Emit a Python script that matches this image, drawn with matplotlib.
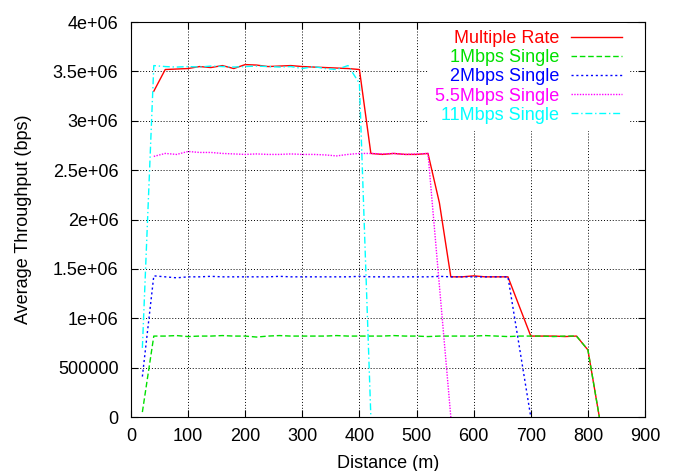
import matplotlib
matplotlib.use('Agg')
import matplotlib.pyplot as plt

plt.rcParams['font.family'] = ['Liberation Sans', 'DejaVu Sans']

# 数据
x_multi = [40, 60, 80, 100, 120, 140, 160, 180, 200, 220, 240, 260, 280, 300, 320, 340, 360, 380, 400,
           420, 440, 460, 480, 500, 520, 540, 560, 580, 600, 620, 640, 660, 680, 700, 720, 740, 760, 780, 800, 820]
y_multi = [3.30e6, 3.52e6, 3.525e6, 3.53e6, 3.55e6, 3.54e6, 3.56e6, 3.53e6, 3.57e6, 3.565e6, 3.55e6, 3.555e6,
           3.56e6, 3.55e6, 3.545e6, 3.54e6, 3.535e6, 3.53e6, 3.52e6,
           2.67e6, 2.66e6, 2.67e6, 2.66e6, 2.66e6, 2.67e6, 2.17e6, 1.42e6, 1.42e6, 1.43e6, 1.42e6, 1.42e6, 1.42e6,
           1.12e6, 0.82e6, 0.82e6, 0.82e6, 0.815e6, 0.82e6, 0.68e6, 0]

x_1m = list(range(20, 840, 20))
y_1m = [0.05e6, 0.82e6, 0.82e6, 0.825e6, 0.815e6, 0.82e6, 0.82e6, 0.825e6, 0.82e6, 0.82e6, 0.81e6, 0.82e6,
        0.825e6, 0.82e6, 0.82e6, 0.82e6, 0.82e6, 0.825e6, 0.82e6, 0.82e6, 0.82e6, 0.82e6, 0.825e6, 0.82e6,
        0.82e6, 0.815e6, 0.82e6, 0.82e6, 0.82e6, 0.82e6, 0.825e6, 0.82e6, 0.815e6, 0.82e6, 0.82e6, 0.82e6,
        0.815e6, 0.82e6, 0.82e6, 0.68e6, 0]

x_2m = list(range(20, 720, 20))
y_2m = [0.41e6, 1.43e6, 1.42e6, 1.41e6, 1.42e6, 1.42e6, 1.425e6, 1.42e6, 1.42e6, 1.42e6, 1.42e6, 1.42e6,
        1.425e6, 1.42e6, 1.42e6, 1.42e6, 1.42e6, 1.42e6, 1.42e6, 1.425e6, 1.42e6, 1.42e6, 1.42e6, 1.42e6,
        1.42e6, 1.42e6, 1.425e6, 1.42e6, 1.42e6, 1.42e6, 1.42e6, 1.42e6, 1.42e6, 0.71e6, 0]

x_55m = list(range(40, 580, 20))
y_55m = [2.64e6, 2.67e6, 2.66e6, 2.69e6, 2.68e6, 2.68e6, 2.67e6, 2.665e6, 2.66e6, 2.665e6, 2.66e6, 2.66e6,
         2.665e6, 2.66e6, 2.66e6, 2.655e6, 2.645e6, 2.66e6, 2.67e6, 2.67e6, 2.665e6, 2.67e6, 2.66e6, 2.665e6,
         2.67e6, 1.33e6, 0]

x_11m = list(range(20, 440, 20))
y_11m = [0.70e6, 3.56e6, 3.55e6, 3.545e6, 3.55e6, 3.545e6, 3.555e6, 3.55e6, 3.545e6, 3.55e6, 3.555e6, 3.55e6,
         3.545e6, 3.55e6, 3.53e6, 3.55e6, 3.53e6, 3.52e6, 3.56e6, 3.38e6, 0]

x_ticks = list(range(0, 1000, 100))
y_ticks = [0, 5e5, 1e6, 1.5e6, 2e6, 2.5e6, 3e6, 3.5e6, 4e6]
y_tick_labels = ['0', '500000', '1e+06', '1.5e+06', '2e+06', '2.5e+06', '3e+06', '3.5e+06', '4e+06']

fig = plt.figure(figsize=(6.75, 4.71), dpi=100)
ax = fig.add_axes([0.194, 0.1146, 0.7616, 0.8384])

ax.plot(x_multi, y_multi, color='#ff0000', lw=1.0, ls='-', label='Multiple Rate')
ax.plot(x_1m, y_1m, color='#00e000', lw=1.0, ls=(0, (4, 2)), label='1Mbps Single')
ax.plot(x_2m, y_2m, color='#0000ff', lw=1.0, ls=(0, (1.5, 2)), label='2Mbps Single')
ax.plot(x_55m, y_55m, color='#ff00ff', lw=1.0, ls=(0, (1, 1)), label='5.5Mbps Single')
ax.plot(x_11m, y_11m, color='#00ffff', lw=1.0, ls=(0, (5, 2, 1, 2)), label='11Mbps Single')

ax.set_xlim(0, 900)
ax.set_ylim(0, 4e6)
ax.set_xticks(x_ticks)
ax.set_yticks(y_ticks)
ax.set_yticklabels(y_tick_labels)
ax.tick_params(direction='in', top=True, right=True, length=5, labelsize=13)
ax.tick_params(axis='x', pad=8)
ax.tick_params(axis='y', pad=9)
ax.grid(True, color='black', ls=(0, (1, 2)), lw=0.7)

ax.set_xlabel('Distance (m)', fontsize=13, labelpad=7)
ax.set_ylabel('Average Throughput (bps)', fontsize=13, labelpad=15)

# 图例：文字在左、线样在右，文字右对齐
leg = ax.legend(loc='upper right', fontsize=13, markerfirst=False, labelcolor='linecolor',
                frameon=True, handlelength=2.8, handletextpad=0.65, labelspacing=0.12,
                borderaxespad=0.3, bbox_to_anchor=(0.979, 1.012))
leg.get_frame().set_edgecolor('none')
leg.get_frame().set_facecolor('white')
leg.get_frame().set_alpha(1.0)

fig.savefig('out.png', dpi=100)
